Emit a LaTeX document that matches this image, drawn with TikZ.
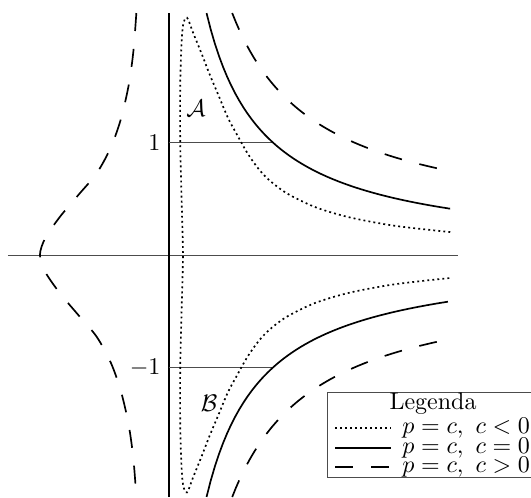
\documentclass[tikz,border=0pt]{standalone}
\usepackage{amsmath}
\usepackage{amssymb}
\usetikzlibrary{calc}
\tikzstyle{axis} = [line width=0.4pt, black!70]
\tikzstyle{yaxis} = [line width=0.6pt, black]
\tikzstyle{curveneg} = [line width=0.7pt, dash pattern=on 0.8pt off 1.3pt]
\tikzstyle{curvezero} = [line width=0.7pt]
\tikzstyle{curvepos} = [line width=0.7pt, dash pattern=on 7.5pt off 7.5pt]
\tikzstyle{legrow} = [anchor=west, inner sep=0pt]

\begin{document}
\begin{tikzpicture}[x=1.6475cm,y=1.6475cm]
\useasboundingbox (-1.502,-2.151) rectangle (3.218,2.267);

%Axes
\coordinate (xl) at (-1.431,0);
\coordinate (xr) at (2.569,0);
\coordinate (yb) at (0,-2.151);
\coordinate (yt) at (0,2.151);
\draw [axis] (xl) -- (xr);
\draw [yaxis] (yb) -- (yt);

%Level lines y=1 and y=-1
\coordinate (u1) at (0,1);
\coordinate (u2) at (0.924,1);
\coordinate (d1) at (0,-1);
\coordinate (d2) at (0.924,-1);
\draw [axis] (u1) -- (u2);
\draw [axis] (d1) -- (d2);

%Curve c<0
\draw [curveneg] plot[smooth] coordinates {(2.5,0.204) (2.0,0.261) (1.6,0.336) (1.3,0.426) (1.05,0.547) (0.9,0.658) (0.8,0.761) (0.7,0.901) (0.61,1.06) (0.524,1.22) (0.44,1.42) (0.364,1.6) (0.29,1.79) (0.213,1.98) (0.18,2.07) (0.16,2.11) (0.14,2.095) (0.122,2.02) (0.11,1.85) (0.1,1.5) (0.1,1.0) (0.112,0.5) (0.124,0) (0.112,-0.5) (0.1,-1.0) (0.1,-1.5) (0.11,-1.85) (0.122,-2.02) (0.14,-2.095) (0.16,-2.11) (0.18,-2.07) (0.213,-1.98) (0.29,-1.79) (0.364,-1.6) (0.44,-1.42) (0.524,-1.22) (0.61,-1.06) (0.7,-0.901) (0.8,-0.761) (0.9,-0.658) (1.05,-0.547) (1.3,-0.426) (1.6,-0.336) (2.0,-0.261) (2.5,-0.204)};

%Curve c=0
\draw [curvezero] plot[domain=0.334:2.5, samples=60] (\x,{1.103/(\x+0.179)});
\draw [curvezero] plot[domain=0.334:2.48, samples=60] (\x,{-1.103/(\x+0.179)});

%Curve c>0
\draw [curvepos] plot[domain=0.562:2.453, samples=60] (\x,{1.4705/(\x+0.1917)+0.2});
\draw [curvepos] plot[domain=0.562:2.453, samples=60] (\x,{-1.4705/(\x+0.1917)-0.2});
\draw [curvepos] plot[smooth] coordinates {(-0.29,2.151) (-0.317,1.804) (-0.36,1.5) (-0.43,1.2) (-0.52,0.95) (-0.643,0.726) (-0.8,0.54) (-0.969,0.34) (-1.1,0.15) (-1.147,0) (-1.1,-0.15) (-0.969,-0.34) (-0.8,-0.54) (-0.643,-0.726) (-0.52,-0.95) (-0.43,-1.2) (-0.36,-1.5) (-0.317,-1.804) (-0.29,-2.151)};

% Text Node
\node [left] (one) at (u1) {$1$};
% Text Node
\node [left] (mone) at (d1) {$-1$};
% Text Node
\node (regA) at (0.24,1.307) {$\mathcal{A}$};
% Text Node
\node (regB) at (0.356,-1.316) {$\mathcal{B}$};

%Legend
\coordinate (bx1) at (3.25,-1.218);
\coordinate (bx2) at (1.413,-1.218);
\coordinate (bx3) at (1.413,-1.973);
\coordinate (bx4) at (3.25,-1.973);
\draw [axis] (bx1) -- (bx2) -- (bx3) -- (bx4);
\node (leg) at (2.347,-1.324) {Legenda};
\node [legrow] (rowneg) at (2.071,-1.538) {$p=c,\ c<0$};
\node [legrow] (rowzero) at (2.071,-1.716) {$p=c,\ c=0$};
\node [legrow] (rowpos) at (2.071,-1.884) {$p=c,\ c>0$};
\coordinate (sn1) at (1.476,-1.538);
\coordinate (sn2) at (1.973,-1.538);
\coordinate (sz1) at (1.476,-1.716);
\coordinate (sz2) at (1.973,-1.716);
\coordinate (sp1) at (1.476,-1.884);
\coordinate (sp2) at (1.973,-1.884);
\draw [curveneg] (sn1) -- (sn2);
\draw [curvezero] (sz1) -- (sz2);
\draw [curvepos] (sp1) -- (sp2);

\end{tikzpicture}
\end{document}
